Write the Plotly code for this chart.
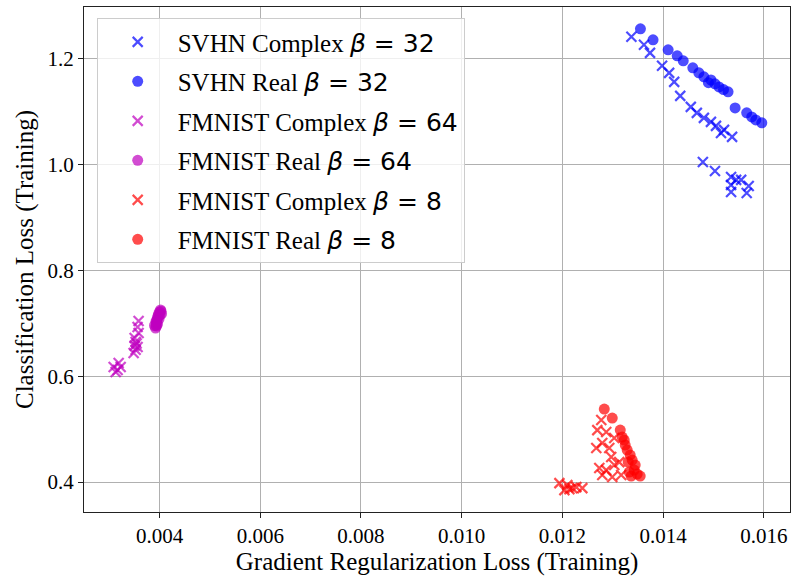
import plotly.graph_objects as go

# ---- data ----
svhn_complex_x = [0.01337, 0.01362, 0.01374, 0.01398, 0.01412, 0.01422, 0.01434, 0.01455,
                  0.01467, 0.01481, 0.01495, 0.01505, 0.01515, 0.01521, 0.01537,
                  0.01479, 0.01503, 0.01535, 0.01555, 0.01535, 0.01570, 0.01535, 0.01566, 0.01545]
svhn_complex_y = [1.2416, 1.2265, 1.2113, 1.1868, 1.1735, 1.1565, 1.1300, 1.1092,
                  1.0979, 1.0884, 1.0809, 1.0733, 1.0600, 1.0657, 1.0525,
                  1.0052, 0.9882, 0.9768, 0.9712, 0.9617, 0.9598, 0.9485, 0.9466, 0.9712]

svhn_real_x = [0.01355, 0.01380, 0.01410, 0.01428, 0.01440, 0.01459, 0.01471, 0.01481,
               0.01495, 0.01503, 0.01511, 0.01529, 0.01543, 0.01566, 0.01576, 0.01584, 0.01596,
               0.01490, 0.01520]
svhn_real_y = [1.2567, 1.2359, 1.2170, 1.2057, 1.1962, 1.1830, 1.1735, 1.1660,
               1.1600, 1.1527, 1.1470, 1.1376, 1.1073, 1.0979, 1.0903, 1.0846, 1.0790,
               1.1550, 1.1420]

fm64_complex_x = [0.003584, 0.003564, 0.003584, 0.003525, 0.003564, 0.003485, 0.003525,
                  0.003505, 0.003545, 0.003505, 0.003188, 0.003168, 0.003089, 0.003228, 0.003129]
fm64_complex_y = [0.7045, 0.6931, 0.6818, 0.6648, 0.6553, 0.6440, 0.6500,
                  0.6723, 0.6620, 0.6580, 0.6250, 0.6118, 0.6175, 0.6175, 0.6080]

fm64_real_x = [0.003921, 0.003931, 0.003941, 0.003950, 0.003960, 0.003970, 0.003980,
               0.004000, 0.004020, 0.004010, 0.003941, 0.003990, 0.003960,
               0.003900, 0.004040, 0.003930, 0.004030]
fm64_real_y = [0.6913, 0.6969, 0.7026, 0.7064, 0.7102, 0.7140, 0.7177,
               0.7215, 0.7253, 0.7158, 0.6950, 0.7083, 0.6988,
               0.6960, 0.7180, 0.7040, 0.7230]

fm8_complex_x = [0.012772, 0.012693, 0.012871, 0.012673, 0.012792, 0.012931, 0.013030,
                 0.012970, 0.012733, 0.012871, 0.013030, 0.013129, 0.012990, 0.013168, 0.012792,
                 0.011941, 0.012099, 0.012198, 0.012396, 0.012040, 0.012277, 0.012139]
fm8_complex_y = [0.5173, 0.4983, 0.4946, 0.4643, 0.4738, 0.4643, 0.4832,
                 0.4473, 0.4265, 0.4227, 0.4322, 0.4378, 0.4095, 0.4133, 0.4133,
                 0.3981, 0.3943, 0.3886, 0.3886, 0.3849, 0.3905, 0.3867]

fm8_real_x = [0.012832, 0.012990, 0.013149, 0.013188, 0.013248, 0.013287, 0.013347,
              0.013386, 0.013446, 0.013426, 0.013485, 0.013545, 0.013327, 0.013366,
              0.013228, 0.013307]
fm8_real_y = [0.5380, 0.5210, 0.4983, 0.4851, 0.4700, 0.4605, 0.4511,
              0.4416, 0.4322, 0.4227, 0.4151, 0.4114, 0.4190, 0.4114,
              0.4794, 0.4378]

x_ticks = [0.004, 0.006, 0.008, 0.010, 0.012, 0.014, 0.016]
y_ticks = [0.4, 0.6, 0.8, 1.0, 1.2]

BETA = "<span style='font-family:DejaVu Sans'><i>β</i> = {}</span>"

series = [
    ("SVHN Complex " + BETA.format(32), svhn_complex_x, svhn_complex_y, "x-thin", "0,0,255"),
    ("SVHN Real " + BETA.format(32), svhn_real_x, svhn_real_y, "circle", "0,0,255"),
    ("FMNIST Complex " + BETA.format(64), fm64_complex_x, fm64_complex_y, "x-thin", "191,0,191"),
    ("FMNIST Real " + BETA.format(64), fm64_real_x, fm64_real_y, "circle", "191,0,191"),
    ("FMNIST Complex " + BETA.format(8), fm8_complex_x, fm8_complex_y, "x-thin", "255,0,0"),
    ("FMNIST Real " + BETA.format(8), fm8_real_x, fm8_real_y, "circle", "255,0,0"),
]

fig = go.Figure()
for i, (name, xs, ys, sym, rgb) in enumerate(series):
    col = f"rgba({rgb},0.7)"
    if sym == "circle":
        marker = dict(symbol="circle", size=11, color=col, line=dict(width=0))
    else:
        marker = dict(symbol="x-thin", size=10, color=col, line=dict(width=2.2, color=col))
    fig.add_trace(go.Scatter(x=xs, y=ys, mode="markers", name=name, marker=marker,
                             legendgroup=f"g{i}"))

axis_common = dict(
    showline=True, linecolor="#222", linewidth=1.2, mirror=True,
    ticks="outside", ticklen=5, tickcolor="#222", tickwidth=1,
    showgrid=True, gridcolor="#b0b0b0", gridwidth=1, zeroline=False,
    tickfont=dict(family="Liberation Serif", size=21, color="black"),
    automargin=False,
)

fig.update_layout(
    width=793, height=576,
    margin=dict(l=84, r=3, t=7, b=64),
    paper_bgcolor="white", plot_bgcolor="white",
    font=dict(family="Liberation Serif", color="black"),
    xaxis=dict(**axis_common, range=[0.0025, 0.01652], tickvals=x_ticks,
               tickformat=".3f",
               title=dict(text="Gradient Regularization Loss (Training)",
                          font=dict(family="Liberation Serif", size=25), standoff=6)),
    yaxis=dict(**axis_common, range=[0.3435, 1.298], tickvals=y_ticks,
               tickformat=".1f",
               title=dict(text="Classification Loss (Training)",
                          font=dict(family="Liberation Serif", size=25), standoff=6)),
    legend=dict(x=0.018, y=0.978, xanchor="left", yanchor="top",
                bgcolor="rgba(255,255,255,0.8)", bordercolor="#cccccc", borderwidth=1,
                font=dict(family="Liberation Serif", size=25, color="black"),
                itemwidth=70, tracegroupgap=4, traceorder="grouped"),
    showlegend=True,
)

fig.write_html(
    "out.html",
    config={"displayModeBar": False},
    post_script="document.body.style.margin='0';document.body.style.overflow='hidden';",
)
